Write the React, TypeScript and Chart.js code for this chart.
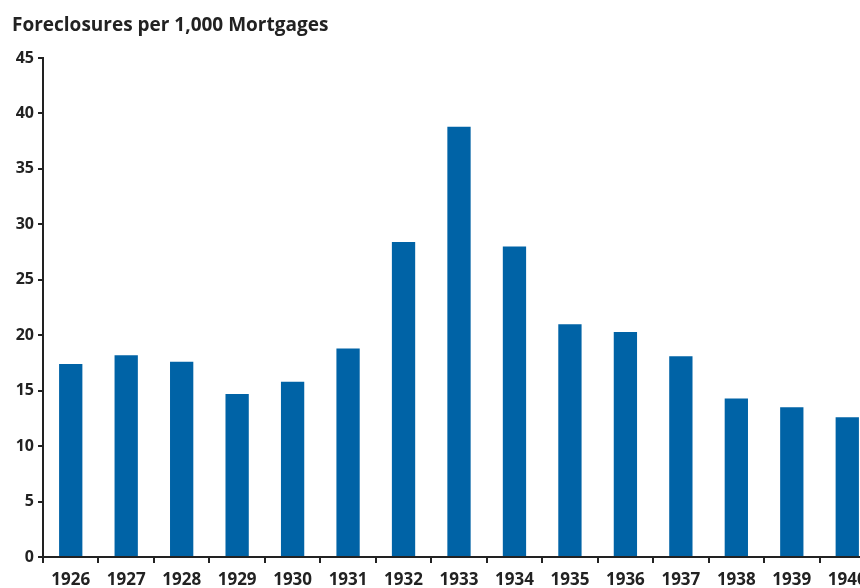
import React, { useEffect, useRef } from "react";
import { Chart, registerables } from "chart.js";

Chart.register(...registerables);

const years = ["1926", "1927", "1928", "1929", "1930", "1931", "1932", "1933", "1934", "1935", "1936", "1937", "1938", "1939", "1940"];
const foreclosures = [17.4, 18.2, 17.6, 14.7, 15.8, 18.8, 28.4, 38.8, 28.0, 21.0, 20.3, 18.1, 14.3, 13.5, 12.6];
const yTicks = { min: 0, max: 45, step: 5 };
const titleText = "Foreclosures per 1,000 Mortgages";

export default function App() {
  const ref = useRef<HTMLCanvasElement | null>(null);
  useEffect(() => {
    document.body.style.margin = "0";
    const ctx = ref.current!.getContext("2d")!;
    const font = "'Open Sans', Lato, sans-serif";
    const chart = new Chart(ctx, {
      type: "bar",
      data: {
        labels: years,
        datasets: [
          {
            data: foreclosures,
            backgroundColor: "#0063A6",
            categoryPercentage: 1,
            barPercentage: 0.42,
          },
        ],
      },
      options: {
        animation: false,
        responsive: false,
        layout: { padding: { left: 12, right: 1, top: 0, bottom: 0 } },
        plugins: {
          legend: { display: false },
          tooltip: { enabled: false },
          title: {
            display: true,
            text: titleText,
            align: "start",
            color: "#222",
            font: { family: font, size: 19, weight: "bold" },
            padding: { top: 14, bottom: 21.2 },
          },
        },
        scales: {
          x: {
            offset: true,
            grid: { offset: true, drawOnChartArea: false, color: "#222", lineWidth: 2, tickLength: 6 },
            border: { color: "#222", width: 2 },
            ticks: { color: "#222", font: { family: font, size: 17, weight: "bold" }, padding: 7, maxRotation: 0, autoSkip: false },
            afterFit: (s: any) => { s.height = 31; },
          },
          y: {
            min: yTicks.min,
            max: yTicks.max,
            grid: { drawOnChartArea: false, color: "#222", lineWidth: 2, tickLength: 5 },
            border: { color: "#222", width: 2 },
            ticks: { stepSize: yTicks.step, color: "#222", font: { family: font, size: 16, weight: "bold" }, padding: 4 },
            afterFit: (s: any) => { s.width = 31; },
          },
        },
      },
    });
    return () => chart.destroy();
  }, []);
  return (
    <div style={{ width: 860, height: 588, overflow: "hidden", position: "relative" }}>
      <canvas ref={ref} width={876} height={588} style={{ display: "block" }} />
    </div>
  );
}
